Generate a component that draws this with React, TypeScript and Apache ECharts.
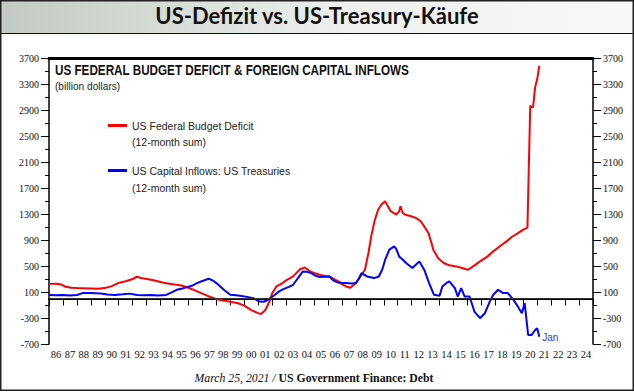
import React, { useEffect, useRef } from "react";
import * as echarts from "echarts";

const yearLabels = ["86","87","88","89","90","91","92","93","94","95","96","97","98","99","00","01","02","03","04","05","06","07","08","09","10","11","12","13","14","15","16","17","18","19","20","21","22","23","24"];

const deficitYears = [1986.0,1986.5,1986.9,1987.2,1987.6,1988.0,1988.5,1989.0,1989.5,1990.0,1990.5,1991.0,1991.5,1992.0,1992.3,1992.6,1993.0,1993.5,1994.0,1994.5,1995.0,1995.5,1996.0,1996.5,1997.0,1997.5,1998.0,1998.5,1999.0,1999.5,2000.0,2000.5,2001.0,2001.2,2001.5,2001.8,2002.0,2002.3,2002.7,2003.0,2003.5,2004.0,2004.35,2004.7,2005.0,2005.4,2005.8,2006.1,2006.5,2006.8,2007.0,2007.3,2007.6,2008.0,2008.3,2008.65,2008.9,2009.1,2009.35,2009.6,2009.85,2010.1,2010.3,2010.5,2010.9,2011.1,2011.2,2011.35,2011.5,2011.9,2012.3,2012.65,2012.9,2013.2,2013.4,2013.55,2013.9,2014.3,2014.7,2015.2,2015.6,2016.05,2016.5,2016.9,2017.4,2017.85,2018.3,2018.8,2019.2,2019.65,2020.0,2020.3,2020.5,2020.7,2020.85,2021.0,2021.15];
const deficitValues = [225,228,215,180,165,160,158,155,150,160,190,240,265,300,335,315,300,280,255,230,215,200,165,120,75,30,-10,-30,-50,-70,-110,-180,-225,-240,-180,-50,80,185,230,280,340,450,478,420,395,365,345,340,290,260,220,185,165,237,330,443,700,957,1200,1369,1450,1497,1420,1343,1292,1340,1420,1320,1292,1270,1241,1188,1110,1009,870,751,620,546,510,494,470,443,510,571,640,725,800,879,950,1009,1060,1090,2964,2939,3248,3376,3581];

const inflowYears = [1986.0,1986.5,1987.0,1987.5,1988.0,1988.4,1989.0,1989.7,1990.2,1990.7,1991.3,1991.8,1992.3,1992.8,1993.3,1993.8,1994.4,1994.8,1995.15,1995.5,1995.9,1996.3,1996.6,1997.0,1997.45,1997.8,1998.0,1998.3,1998.6,1999.0,1999.4,1999.7,2000.2,2000.65,2001.1,2001.4,2001.7,2002.2,2002.5,2002.8,2003.2,2003.5,2003.9,2004.2,2004.5,2004.8,2005.1,2005.4,2005.8,2006.1,2006.4,2006.7,2007.0,2007.3,2007.7,2008.0,2008.2,2008.4,2008.8,2009.3,2009.65,2009.9,2010.1,2010.4,2010.75,2010.9,2011.1,2011.35,2011.6,2012.05,2012.3,2012.55,2012.9,2013.25,2013.6,2014.0,2014.2,2014.5,2014.7,2015.1,2015.3,2015.55,2015.8,2016.15,2016.5,2016.9,2017.25,2017.6,2017.85,2018.2,2018.55,2018.9,2019.3,2019.6,2019.9,2020.1,2020.35,2020.6,2020.85,2021.0,2021.15];
const inflowValues = [55,50,52,48,55,83,85,78,60,55,65,75,55,50,55,48,55,95,134,150,175,200,237,270,304,270,237,180,123,57,50,41,25,5,-47,-50,-21,57,110,144,180,211,330,416,410,391,350,330,335,339,275,247,240,237,230,237,300,391,339,314,339,450,597,751,803,760,648,600,546,469,520,571,443,237,57,41,185,240,262,160,30,160,30,30,-201,-303,-226,-47,57,134,83,83,-21,-120,-226,-72,-561,-561,-484,-458,-587];

const seriesNames = ["US Federal Budget Deficit", "US Capital Inflows: US Treasuries"];
const seriesNotes = ["(12-month sum)", "(12-month sum)"];
const yMin = -700;
const yMax = 3700;
const yStep = 400;
const xStart = 1986;
const xEnd = 2025;

const SERIF = "Liberation Serif";
const SANS = "Liberation Sans";

export default function App() {
  const ref = useRef<HTMLDivElement>(null);
  useEffect(() => {
    if (!ref.current) return;
    const chart = echarts.init(ref.current, null, { renderer: "svg" });
    const yAxisBase = (pos: "left" | "right") => ({
      type: "value",
      position: pos,
      min: yMin,
      max: yMax,
      interval: yStep,
      splitLine: { show: false },
      axisLine: { show: true, lineStyle: { color: "#000", width: 1.5 } },
      axisTick: { show: true, length: 8, lineStyle: { color: "#000", width: 1 } },
      minorTick: { show: true, splitNumber: 2, length: 4, lineStyle: { color: "#000", width: 1 } },
      axisLabel: {
        fontFamily: SERIF,
        fontSize: 10,
        color: "#111",
        margin: 10,
        formatter: (v: number) => String(v),
      },
    });
    const option: any = {
      animation: false,
      backgroundColor: "#fff",
      title: [
        {
          text: "US-Defizit vs. US-Treasury-Käufe",
          left: "center",
          top: 4,
          padding: 0,
          textStyle: { fontFamily: "Lato", fontWeight: "bold", fontSize: 22, color: "#111" },
        },
      ],
      legend: {
        data: seriesNames,
        orient: "vertical",
        left: 108,
        top: 120,
        itemWidth: 19,
        itemHeight: 3,
        itemGap: 34,
        icon: "rect",
        padding: 0,
        textStyle: { fontFamily: SANS, fontSize: 10.5, color: "#222" },
      },
      grid: { left: 49, right: 41, top: 58, bottom: 48, containLabel: false },
      xAxis: [
        { type: "value", min: xStart, max: xEnd, show: false },
        {
          type: "category",
          data: yearLabels,
          position: "bottom",
          boundaryGap: true,
          axisLine: { show: true, lineStyle: { color: "#000", width: 2 } },
          axisTick: { show: true, interval: 0, length: 7, lineStyle: { color: "#000", width: 1 } },
          axisLabel: { interval: 0, fontFamily: SERIF, fontSize: 10.5, color: "#111", margin: 5 },
        },
        {
          type: "category",
          data: yearLabels,
          position: "top",
          axisLine: { show: true, lineStyle: { color: "#000", width: 3 } },
          axisTick: { show: false },
          axisLabel: { show: false },
        },
      ],
      yAxis: [yAxisBase("left"), yAxisBase("right")],
      graphic: [
        {
          type: "rect",
          z: -10,
          shape: { x: 0, y: 0, width: 634, height: 33 },
          style: {
            fill: new echarts.graphic.LinearGradient(0, 0, 1, 0, [
              { offset: 0, color: "#c2cac2" },
              { offset: 0.55, color: "#eef0ee" },
              { offset: 1, color: "#f8f8f8" },
            ]),
          },
        },
        { type: "line", shape: { x1: 0, y1: 33.5, x2: 634, y2: 33.5 }, style: { stroke: "#111", lineWidth: 1 } },
        {
          type: "rect",
          shape: { x: 0.75, y: 0.75, width: 632.5, height: 389.5 },
          style: { fill: "none", stroke: "#222", lineWidth: 1.5 },
        },
        {
          type: "text",
          x: 55,
          y: 70,
          scaleX: 0.78,
          style: {
            text: "US FEDERAL BUDGET DEFICIT & FOREIGN CAPITAL INFLOWS",
            fontFamily: SANS,
            fontWeight: "bold",
            fontSize: 15,
            fill: "#111",
            verticalAlign: "middle",
          },
        },
        {
          type: "text",
          x: 55,
          y: 86,
          scaleX: 0.88,
          style: { text: "(billion dollars)", fontFamily: SANS, fontSize: 11.5, fill: "#222", verticalAlign: "middle" },
        },
        {
          type: "text",
          x: 132,
          y: 142,
          style: { text: seriesNotes[0], fontFamily: SANS, fontSize: 10.5, fill: "#222", verticalAlign: "middle" },
        },
        {
          type: "text",
          x: 132,
          y: 188,
          style: { text: seriesNotes[1], fontFamily: SANS, fontSize: 10.5, fill: "#222", verticalAlign: "middle" },
        },
        {
          type: "text",
          x: 314,
          y: 378,
          scaleX: 0.87,
          style: {
            text: "{a|March 25, 2021 /} {b|US Government Finance: Debt}",
            align: "center",
            verticalAlign: "middle",
            rich: {
              a: { fontFamily: SERIF, fontStyle: "italic", fontSize: 13.5, fill: "#111" },
              b: { fontFamily: SERIF, fontWeight: "bold", fontSize: 13.5, fill: "#111" },
            },
          },
        },
      ],
      series: [
        {
          name: seriesNames[0],
          type: "line",
          xAxisIndex: 0,
          yAxisIndex: 0,
          data: deficitYears.map((y, i) => [y, deficitValues[i]]),
          showSymbol: false,
          symbol: "none",
          color: "#ff0000",
          lineStyle: { color: "#ff0000", width: 2 },
          markLine: {
            silent: true,
            symbol: "none",
            label: { show: false },
            lineStyle: { color: "#333", width: 1, type: "solid" },
            data: [{ yAxis: 0 }],
          },
        },
        {
          name: seriesNames[1],
          type: "line",
          xAxisIndex: 0,
          yAxisIndex: 0,
          data: inflowYears.map((y, i) => [y, inflowValues[i]]),
          showSymbol: false,
          symbol: "none",
          color: "#0000ff",
          lineStyle: { color: "#0000ff", width: 2 },
          endLabel: {
            show: true,
            formatter: "Jan",
            color: "#3333ff",
            fontFamily: SANS,
            fontSize: 10,
            distance: 3,
            offset: [0, 1],
          },
        },
      ],
    };
    chart.setOption(option);
    return () => chart.dispose();
  }, []);
  return (
    <div
      ref={ref}
      style={{ position: "fixed", left: 0, top: 0, width: 634, height: 392 }}
    />
  );
}
